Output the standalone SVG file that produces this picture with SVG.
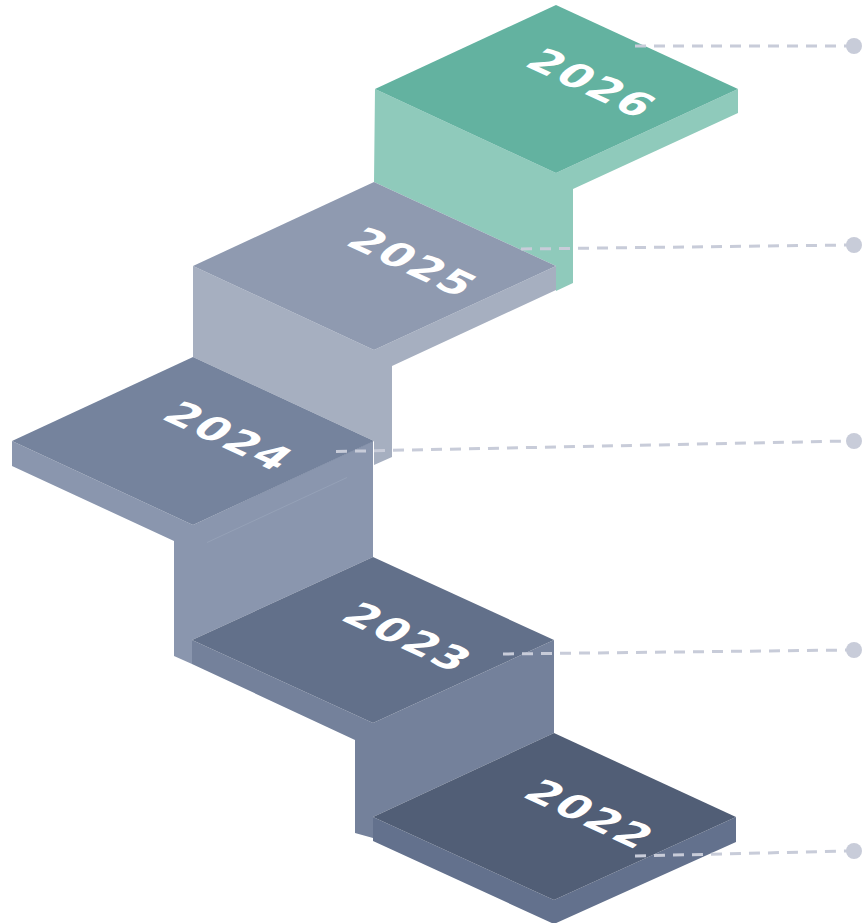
<svg xmlns="http://www.w3.org/2000/svg" width="864" height="923" viewBox="0 0 864 923">
  <style>
    .lbl { font-family: "DejaVu Sans", "Liberation Sans", sans-serif; font-weight: 700; font-size: 43px; letter-spacing: 2.5px; fill: #FFFFFF; }
    .conn { stroke: #C8CCD9; stroke-width: 3; stroke-dasharray: 11 8; fill: none; }
    .dot { fill: #C8CCD9; }
    .seam { stroke: #95A1B7; stroke-width: 1; fill: none; }
  </style>
  <rect width="864" height="923" fill="#FFFFFF"/>

  <g id="step-2026">
    <polygon fill="#8FCABB" points="375,89 556,173 738,89 738,113 573,189 573,283 556,291 556,266 374,182"/>
    <polygon fill="#63B2A0" points="556,5 738,89 556,173 375,89"/>
    <text class="lbl" transform="matrix(0.906 0.423 -0.7 0.6 523 65)">2026</text>
  </g>

  <g id="step-2025">
    <polygon fill="#A6AFC0" points="193,266 374,350 556,266 556,290 392,366 392,457 374,465 374,441 193,357"/>
    <polygon fill="#8F9AB0" points="374,182 556,266 374,350 193,266"/>
    <text class="lbl" transform="matrix(0.906 0.423 -0.7 0.6 344 244)">2025</text>
  </g>

  <g id="step-2024">
    <polygon fill="#8A96AE" points="12,441 193,525 373,441 373,557 192,640 192,664 174,656 174,541 12,466"/>
    <line class="seam" x1="207" y1="542.5" x2="347" y2="477.5"/>
    <polygon fill="#75839D" points="193,357 374,441 193,525 12,441"/>
    <text class="lbl" transform="matrix(0.906 0.423 -0.7 0.6 160 418)">2024</text>
  </g>

  <g id="step-2023">
    <polygon fill="#74819B" points="192,640 373,723 554,640 554,733 373,817 373,838 355,833 355,740 192,664"/>
    <polygon fill="#62708A" points="373,557 554,640 373,723 192,640"/>
    <text class="lbl" transform="matrix(0.906 0.423 -0.7 0.6 339 619)">2023</text>
  </g>

  <g id="step-2022">
    <polygon fill="#63718D" points="373,817 554,900 736,817 736,842 554,924 373,841"/>
    <polygon fill="#515E76" points="554,733 736,817 554,900 373,817"/>
    <text class="lbl" transform="matrix(0.906 0.423 -0.7 0.6 521 796)">2022</text>
  </g>

  <g id="connectors">
    <line class="conn" x1="635" y1="46" x2="848" y2="46"/>
    <circle class="dot" cx="854" cy="46" r="8"/>
    <line class="conn" x1="521" y1="249" x2="848" y2="245"/>
    <circle class="dot" cx="854" cy="245" r="8"/>
    <line class="conn" x1="336" y1="451.5" x2="848" y2="441"/>
    <circle class="dot" cx="854" cy="441" r="8"/>
    <line class="conn" x1="503" y1="654" x2="848" y2="650"/>
    <circle class="dot" cx="854" cy="650" r="8"/>
    <line class="conn" x1="635" y1="856" x2="848" y2="851"/>
    <circle class="dot" cx="854" cy="851" r="8"/>
  </g>
</svg>
